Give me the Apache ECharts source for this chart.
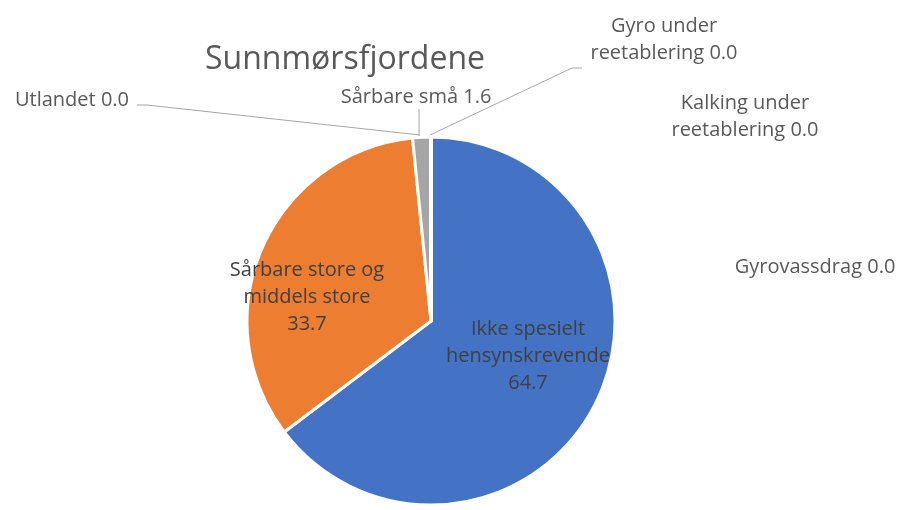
<!DOCTYPE html>
<html><head><meta charset="utf-8">
<script src="https://cdn.jsdelivr.net/npm/echarts@6/dist/echarts.min.js"></script>
<style>html,body{margin:0;padding:0;background:#fff}#c{width:904px;height:510px}</style>
</head><body><div id="c"></div>
<script>
const categories = ['Ikke spesielt hensynskrevende','Sårbare store og middels store','Sårbare små','Utlandet','Gyro under reetablering','Kalking under reetablering','Gyrovassdrag'];
const labelNames = ['Ikke spesielt\nhensynskrevende\n','Sårbare store og\nmiddels store\n','Sårbare små ','Utlandet ','Gyro under\nreetablering ','Kalking under\nreetablering ','Gyrovassdrag '];
const values = [64.7, 33.7, 1.6, 0.0, 0.0, 0.0, 0.0];
const colors = ['#4472C4','#ED7D31','#A5A5A5','#5B9BD5','#FFC000','#70AD47','#264478'];
const titleText = 'Sunnmørsfjordene';

// label placement (pixels) for each slice label
const labelPos = [
  {x:528, y:356},
  {x:307, y:297},
  {x:416, y:97,  line:[[419,136],[419,118],[419,109]]},
  {x:72,  y:100, line:[[420,135],[147,105],[137,105]]},
  {x:664, y:40,  line:[[430,135],[572,68],[582,68]]},
  {x:745, y:117},
  {x:815, y:267}
];

const chart = echarts.init(document.getElementById('c'));
const FONT = 'Open Sans';
chart.setOption({
  animation:false,
  title:{text:titleText,left:340,top:55,textAlign:'center',textVerticalAlign:'middle',
    textStyle:{fontFamily:FONT,fontSize:32,fontWeight:'normal',color:'#595959'}},
  series:[{
    type:'pie',
    center:[431,321],
    radius:184,
    startAngle:90,
    clockwise:true,
    avoidLabelOverlap:false,
    stillShowZeroSum:true,
    itemStyle:{borderColor:'#fff',borderWidth:3},
    label:{show:true,fontFamily:FONT,fontSize:20,color:'#595959',lineHeight:27,align:'center',
      formatter:p=>labelNames[p.dataIndex]+p.value.toFixed(1)},
    labelLine:{show:true,lineStyle:{color:'#A6A6A6',width:1},length:10,length2:10},
    data:categories.map((c,i)=>({name:c,value:values[i],
      itemStyle:{color:colors[i]},
      label:i<2?{color:'#404040'}:{},
      labelLine:{show:!!labelPos[i].line}})),
    labelLayout:function(p){
      const lp=labelPos[p.dataIndex];
      const o={x:lp.x,y:lp.y,align:'center',verticalAlign:'middle',hideOverlap:false,moveOverlap:null};
      if(lp.line) o.labelLinePoints=lp.line;
      return o;
    }
  }]
});
</script></body></html>
